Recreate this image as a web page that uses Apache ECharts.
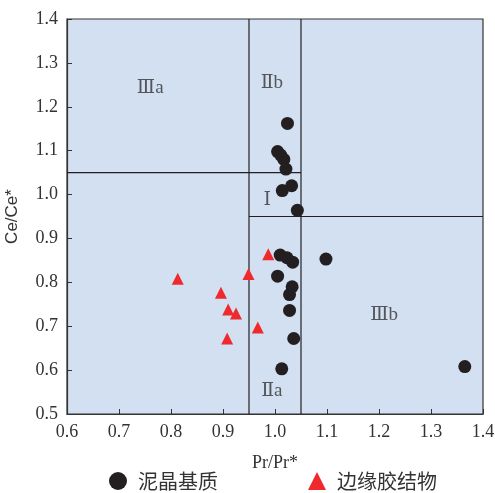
<!DOCTYPE html>
<html>
<head>
<meta charset="utf-8">
<script src="https://cdn.jsdelivr.net/npm/echarts@6/dist/echarts.min.js"></script>
<style>html,body{margin:0;padding:0;background:#fff}#c{width:495px;height:493px}</style>
</head>
<body>
<div id="c"></div>
<script>
var xTicks = [0.6, 0.7, 0.8, 0.9, 1.0, 1.1, 1.2, 1.3, 1.4];
var yTicks = [0.5, 0.6, 0.7, 0.8, 0.9, 1.0, 1.1, 1.2, 1.3, 1.4];
var seriesNames = ['泥晶基质', '边缘胶结物'];
var micriteX = [1.024, 1.005, 1.011, 1.017, 1.021, 1.032, 1.014, 1.043, 1.010, 1.023, 1.034, 1.098, 1.005, 1.033, 1.028, 1.028, 1.036, 1.013, 1.365];
var micriteY = [1.162, 1.098, 1.090, 1.080, 1.058, 1.020, 1.009, 0.964, 0.862, 0.856, 0.846, 0.853, 0.814, 0.790, 0.772, 0.736, 0.672, 0.603, 0.608];
var cementX = [0.813, 0.896, 0.910, 0.925, 0.908, 0.949, 0.987, 0.967];
var cementY = [0.808, 0.776, 0.738, 0.729, 0.672, 0.819, 0.864, 0.697];
var boundaryLines = [
  [[0.6, 1.05], [1.05, 1.05]],
  [[0.95, 0.95], [1.4, 0.95]],
  [[0.95, 0.5], [0.95, 1.4]],
  [[1.05, 0.5], [1.05, 1.4]]
];
var regionLabels = ['Ⅲa', 'Ⅱb', 'Ⅰ', 'Ⅱa', 'Ⅲb'];
var regionX = [0.76, 0.994, 0.985, 0.994, 1.21];
var regionY = [1.243, 1.254, 0.988, 0.553, 0.726];

function zip(a, b) { return a.map(function (v, i) { return [v, b[i]]; }); }

var serif = '"Liberation Serif","Times New Roman",serif';
var series = [
  {
    name: seriesNames[0], type: 'scatter', symbol: 'circle', symbolSize: 13,
    itemStyle: { color: '#231f20', opacity: 1 }, data: zip(micriteX, micriteY), z: 5
  },
  {
    name: seriesNames[1], type: 'scatter', symbol: 'triangle', symbolSize: 12,
    itemStyle: { color: '#ee2a2f', opacity: 1 }, data: zip(cementX, cementY), z: 5
  }
];
boundaryLines.forEach(function (seg) {
  series.push({
    type: 'line', data: seg, symbol: 'none', silent: true, z: 3,
    lineStyle: { color: '#231f20', width: 1.2 }, legendHoverLink: false
  });
});
series.push({
  type: 'scatter', symbolSize: 0, silent: true, z: 4,
  data: regionLabels.map(function (t, i) { return { value: [regionX[i], regionY[i]], name: t }; }),
  label: {
    show: true, position: 'inside', formatter: function (p) { return p.name; },
    fontFamily: '"Liberation Serif","DejaVu Serif",serif', fontSize: 19, color: '#333'
  }
});

var chart = echarts.init(document.getElementById('c'), null, { renderer: 'canvas' });
chart.setOption({
  animation: false,
  legend: {
    data: seriesNames, left: 109, top: 471, padding: 0, itemGap: 90, itemWidth: 18, itemHeight: 18,
    textStyle: { fontFamily: '"Noto Sans CJK SC",sans-serif', fontSize: 20, color: '#333', padding: [0, 0, 0, 6] }
  },
  grid: {
    left: 67, right: 12, top: 19, bottom: 79, show: true, outerBoundsMode: 'none', containLabel: false,
    backgroundColor: '#d3e0f1', borderColor: '#333', borderWidth: 1.2
  },
  xAxis: {
    type: 'value', min: 0.6, max: 1.4, interval: 0.1,
    name: 'Pr/Pr*', nameLocation: 'middle', nameGap: 40,
    nameTextStyle: { fontFamily: serif, fontSize: 18, color: '#333' },
    axisLine: { show: true, lineStyle: { color: '#333', width: 1.2 } },
    axisTick: { show: true, inside: true, length: 5, lineStyle: { color: '#333' } },
    axisLabel: { fontFamily: serif, fontSize: 18, color: '#333', margin: 9,
      formatter: function (v) { return v.toFixed(1); } },
    splitLine: { show: false }
  },
  yAxis: {
    type: 'value', min: 0.5, max: 1.4, interval: 0.1,
    name: 'Ce/Ce*', nameLocation: 'middle', nameGap: 46,
    nameTextStyle: { fontFamily: '"Liberation Sans",Arial,sans-serif', fontSize: 17, color: '#333' },
    axisLine: { show: true, lineStyle: { color: '#333', width: 1.2 } },
    axisTick: { show: true, inside: true, length: 5, lineStyle: { color: '#333' } },
    axisLabel: { fontFamily: serif, fontSize: 18, color: '#333', margin: 9,
      formatter: function (v) { return v.toFixed(1); } },
    splitLine: { show: false }
  },
  series: series
});
</script>
</body>
</html>
